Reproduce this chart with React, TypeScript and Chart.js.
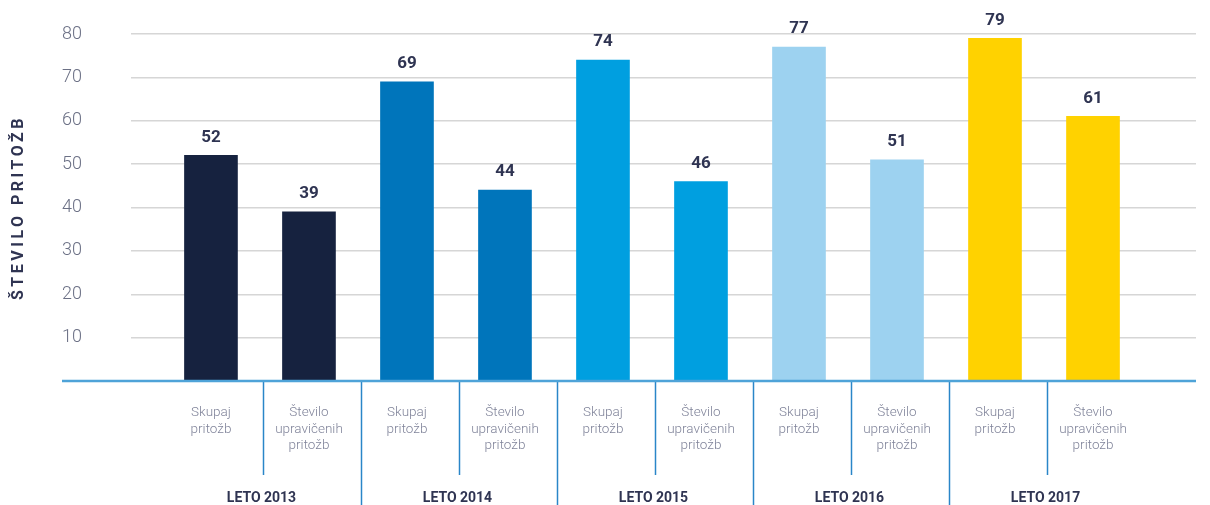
import React, { useEffect, useRef } from "react";
import { Chart, registerables } from "chart.js";

Chart.register(...registerables);

const categoryLabels: string[][] = [
  ["Skupaj", "pritožb"],
  ["Število", "upravičenih", "pritožb"],
  ["Skupaj", "pritožb"],
  ["Število", "upravičenih", "pritožb"],
  ["Skupaj", "pritožb"],
  ["Število", "upravičenih", "pritožb"],
  ["Skupaj", "pritožb"],
  ["Število", "upravičenih", "pritožb"],
  ["Skupaj", "pritožb"],
  ["Število", "upravičenih", "pritožb"],
];
const groupLabels = ["LETO 2013", "LETO 2014", "LETO 2015", "LETO 2016", "LETO 2017"];
const values = [52, 39, 69, 44, 74, 46, 77, 51, 79, 61];
const barColors = [
  "#16223f", "#16223f",
  "#0075bb", "#0075bb",
  "#009fe0", "#009fe0",
  "#9dd2f0", "#9dd2f0",
  "#ffd200", "#ffd200",
];
const yTicks = [10, 20, 30, 40, 50, 60, 70, 80];
const yTitle = "ŠTEVILO PRITOŽB";

const FONT = "Roboto, 'DejaVu Sans', sans-serif";
const NAVY = "#2f3452";

const decorPlugin = {
  id: "decor",
  afterDraw(chart: any) {
    const { ctx, chartArea, scales } = chart;
    const x = scales.x;
    const bottom = chartArea.bottom;
    ctx.save();
    // separators
    ctx.strokeStyle = "#2a86c8";
    ctx.lineWidth = 1.5;
    for (let i = 0; i < values.length - 1; i++) {
      const px = (x.getPixelForValue(i) + x.getPixelForValue(i + 1)) / 2 + 3;
      const end = i % 2 === 1 ? chart.height : bottom + 94;
      ctx.beginPath();
      ctx.moveTo(Math.round(px) + 0.5, bottom);
      ctx.lineTo(Math.round(px) + 0.5, end);
      ctx.stroke();
    }
    // axis line
    ctx.strokeStyle = "#4ea3d8";
    ctx.lineWidth = 2.5;
    ctx.beginPath();
    ctx.moveTo(62, bottom);
    ctx.lineTo(chartArea.right, bottom);
    ctx.stroke();
    // group labels
    ctx.fillStyle = NAVY;
    ctx.font = `bold 14px ${FONT}`;
    ctx.textAlign = "center";
    ctx.textBaseline = "middle";
    groupLabels.forEach((g, gi) => {
      const px = (x.getPixelForValue(gi * 2) + x.getPixelForValue(gi * 2 + 1)) / 2 + 1.5;
      ctx.fillText(g, px, 498);
    });
    // value labels
    ctx.font = `bold 17px ${FONT}`;
    const meta = chart.getDatasetMeta(0);
    meta.data.forEach((bar: any, i: number) => {
      ctx.fillText(String(values[i]), bar.x, bar.y - 18);
    });
    // y title with letter spacing
    ctx.save();
    (ctx as any).letterSpacing = "3.5px";
    ctx.font = `bold 16px ${FONT}`;
    ctx.translate(19, (chartArea.top + chartArea.bottom) / 2);
    ctx.rotate(-Math.PI / 2);
    ctx.fillText(yTitle, 0, 0);
    ctx.restore();
    ctx.restore();
  },
};

export default function App() {
  const ref = useRef<HTMLCanvasElement | null>(null);
  useEffect(() => {
    if (!ref.current) return;
    const chart = new Chart(ref.current, {
      type: "bar",
      data: {
        datasets: [
          {
            data: values.map((v, i) => ({ x: i, y: v })),
            backgroundColor: barColors,
            barThickness: 53,
            borderWidth: 0,
          },
        ],
      },
      options: {
        animation: false,
        responsive: false,
        maintainAspectRatio: false,
        layout: { padding: { top: 34, right: 14, left: 0, bottom: 0 } },
        plugins: { legend: { display: false }, tooltip: { enabled: false } },
        scales: {
          x: {
            type: "linear",
            offset: false,
            min: -0.816,
            max: 10.051,
            grid: { display: false },
            border: { display: false },
            afterBuildTicks: (axis: any) => {
              axis.ticks = values.map((_, i) => ({ value: i }));
            },
            afterFit: (axis: any) => {
              axis.height = 124;
              axis.paddingTop = 0;
              axis.paddingBottom = 0;
              axis.paddingLeft = 0;
              axis.paddingRight = 0;
            },
            ticks: {
              autoSkip: false,
              maxRotation: 0,
              minRotation: 0,
              padding: 16,
              color: "#80849a",
              font: { family: FONT, size: 13.5, weight: "300", lineHeight: 1.2 },
              callback: (value: any) => categoryLabels[Math.round(value)] ?? "",
            },
          },
          y: {
            min: 0,
            max: 80,
            grid: { color: "#d6d6d6", lineWidth: 1.5, drawTicks: false },
            border: { display: false },
            afterBuildTicks: (axis: any) => {
              axis.ticks = yTicks.map((v) => ({ value: v }));
            },
            afterFit: (axis: any) => {
              axis.width = 131;
              axis.paddingTop = 0;
              axis.paddingBottom = 0;
            },
            ticks: {
              padding: 49,
              color: "#6b7085",
              font: { family: FONT, size: 18, weight: "300" },
            },
          },
        },
      },
      plugins: [decorPlugin],
    });
    return () => chart.destroy();
  }, []);
  return (
    <div style={{ position: "absolute", left: 0, top: 0, width: 1210, height: 505, background: "#fff" }}>
      <canvas ref={ref} width={1210} height={505} style={{ width: 1210, height: 505 }} />
    </div>
  );
}
